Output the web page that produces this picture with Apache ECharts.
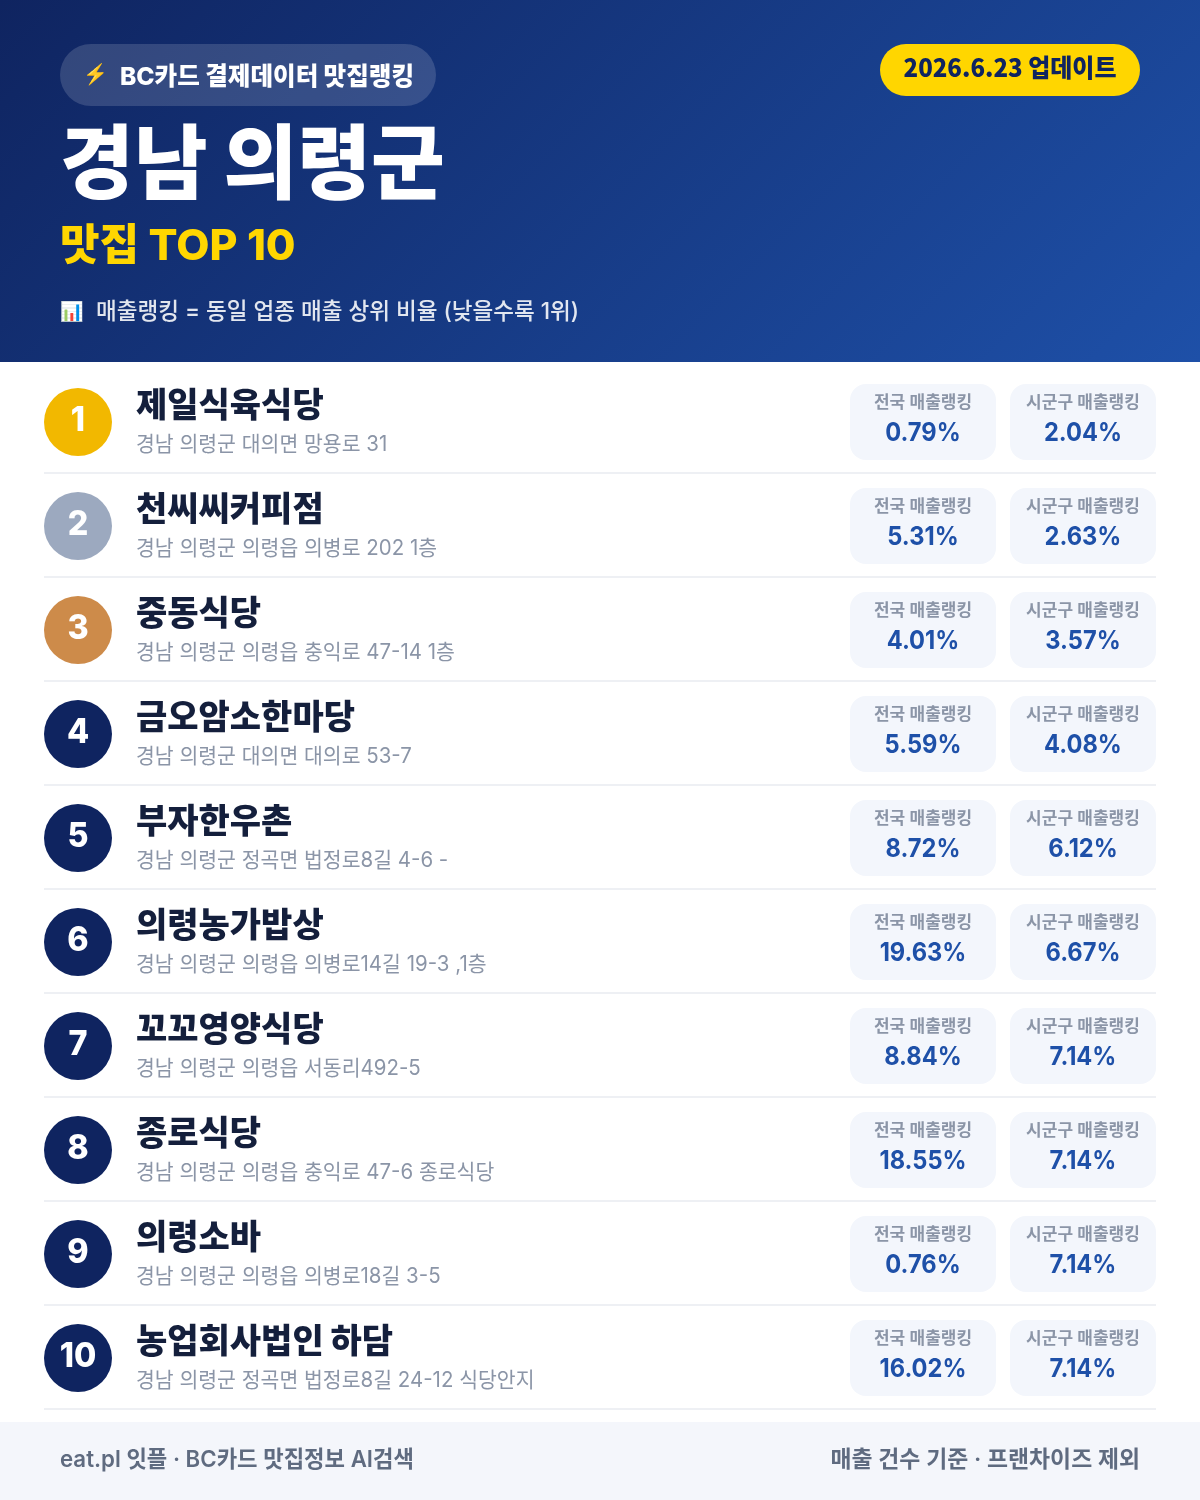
<!DOCTYPE html>
<html lang="ko"><head><meta charset="utf-8">
<style>html,body{margin:0;padding:0;background:#fff}#c{width:1200px;height:1500px}</style>
<script src="https://cdn.jsdelivr.net/npm/echarts@6/dist/echarts.min.js"></script></head>
<body><div id="c"></div>
<script>
const ranks = ['1','2','3','4','5','6','7','8','9','10'];
const names = ['제일식육식당','천씨씨커피점','중동식당','금오암소한마당','부자한우촌','의령농가밥상','꼬꼬영양식당','종로식당','의령소바','농업회사법인 하담'];
const addresses = ['경남 의령군 대의면 망용로 31','경남 의령군 의령읍 의병로 202 1층','경남 의령군 의령읍 충익로 47-14 1층','경남 의령군 대의면 대의로 53-7','경남 의령군 정곡면 법정로8길 4-6 -','경남 의령군 의령읍 의병로14길 19-3 ,1층','경남 의령군 의령읍 서동리492-5','경남 의령군 의령읍 충익로 47-6 종로식당','경남 의령군 의령읍 의병로18길 3-5','경남 의령군 정곡면 법정로8길 24-12 식당안지'];
const national = [0.79,5.31,4.01,5.59,8.72,19.63,8.84,18.55,0.76,16.02];
const district = [2.04,2.63,3.57,4.08,6.12,6.67,7.14,7.14,7.14,7.14];
const medalColors = ['#F2B800','#9CA9BF','#CD8B4A'];
const F = 'Inter,"Noto Sans CJK KR","Noto Sans",sans-serif';
const K = '"Noto Sans CJK KR","Noto Sans",sans-serif';
const chart = echarts.init(document.getElementById('c'), null, {width:1200,height:1500});
function t(text,x,y,size,weight,fill,align,sx,fam){
  return {type:'text',x:x,y:y,scaleX:sx||1,silent:true,style:{text:text,fill:fill,font:weight+' '+size+'px '+(fam||F),align:align||'left',verticalAlign:'middle'}};
}
function card(cx,y,label,val){
  return [
    {type:'rect',shape:{x:cx-73,y:y-38,width:146,height:76,r:16},style:{fill:'#F3F6FC'}},
    t(label,cx,y-19.5,17,600,'#8B95A7','center'),
    t(val.toFixed(2)+'%',cx,y+11,26,700,'#1E50A8','center',0.91)
  ];
}
const renderRow = (params,api)=>{
  const i = api.value(0);
  const y = api.coord([0,i])[1];
  const kids = [
    {type:'rect',shape:{x:44,y:y+50,width:1112,height:2},style:{fill:'#EEF0F4'}},
    {type:'circle',shape:{cx:78,cy:y,r:34},style:{fill:medalColors[i]||'#0F2460'}},
    t(ranks[i],78,y-1,34,800,'#fff','center',0.95),
    t(names[i],136,y-15,34,900,'#141F3C'),
    t(addresses[i],136,y+23,21,400,'#8B95A7','left',0.975)
  ].concat(card(923,y,'전국 매출랭킹',api.value(1)),card(1083,y,'시군구 매출랭킹',api.value(2)));
  return {type:'group',children:kids};
};
chart.setOption({
  animation:false,
  grid:{left:0,right:0,top:370,height:1040},
  xAxis:{type:'value',min:0,max:1200,show:false},
  yAxis:{type:'category',data:ranks,inverse:true,show:false},
  graphic:[
    {type:'rect',z:-1,shape:{x:0,y:0,width:1200,height:362},style:{fill:new echarts.graphic.LinearGradient(210,-209.5,990,571.5,[{offset:0,color:'#0F2460'},{offset:1,color:'#1E50A8'}],true)}},
    {type:'rect',shape:{x:60,y:44,width:376,height:62,r:31},style:{fill:'rgba(255,255,255,0.15)'}},
    {type:'text',x:95,y:75,style:{text:'⚡',font:'20px '+F,fill:'#FFC83D',align:'center',verticalAlign:'middle'}},
    t('BC카드 결제데이터 맛집랭킹',120,77,25,800,'#fff','left',0.983),
    {type:'rect',shape:{x:880,y:44,width:260,height:52,r:26},style:{fill:'#FFD600'}},
    t('2026.6.23 업데이트',1010,67,25,800,'#0F2460','center',0.96,K),
    t('경남 의령군',60,168,81,900,'#fff','left',0.99),
    t('맛집 TOP 10',60,247,43,800,'#FFD600'),
    {type:'text',x:60,y:312,style:{text:'📊',font:'19px '+F,fill:'#fff',verticalAlign:'middle'}},
    t('매출랭킹 = 동일 업종 매출 상위 비율 (낮을수록 1위)',96,312,23,500,'rgba(255,255,255,0.88)','left',0.98),
    {type:'rect',shape:{x:0,y:1422,width:1200,height:78},style:{fill:'#F4F6FB'}},
    t('eat.pl 잇플 · BC카드 맛집정보 AI검색',60,1460,23,600,'#5F6B80','left',0.967),
    t('매출 건수 기준 · 프랜차이즈 제외',1140,1460,23,600,'#5F6B80','right',0.994)
  ],
  series:[{type:'custom',coordinateSystem:'cartesian2d',renderItem:renderRow,
    encode:{x:1,y:0},clip:false,
    data:ranks.map((r,i)=>[i,national[i],district[i]])}]
});
</script></body></html>
